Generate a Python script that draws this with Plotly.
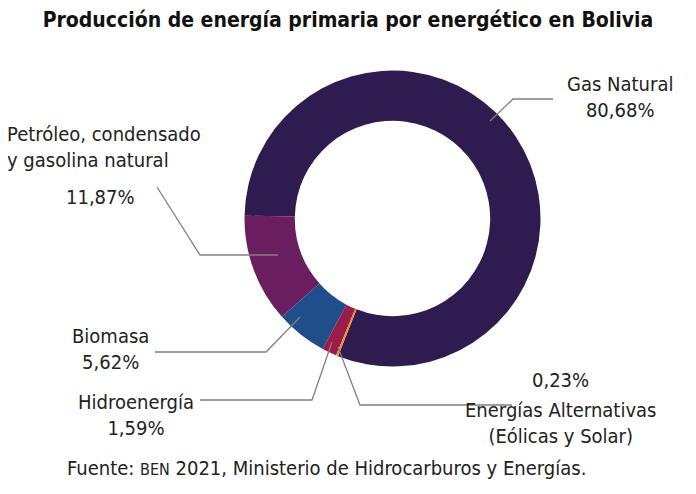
import plotly.graph_objects as go

# The page body has an 8px default margin, so the figure is drawn 8px smaller
# on each side and coordinates below are given in the 696x494 window frame.
OFF = 8
W, H = 696 - 2 * OFF, 494 - 2 * OFF

categories = ["Gas Natural", "Petróleo, condensado y gasolina natural", "Biomasa",
              "Hidroenergía", "Energías Alternativas (Eólicas y Solar)"]
values = [80.68, 11.87, 5.62, 1.59, 0.23]
value_labels = ["80,68%", "11,87%", "5,62%", "1,59%", "0,23%"]
colors = ["#2e1b4f", "#6a1e5f", "#1f4e8a", "#9b1b4a", "#f08c2a"]

FONT = "Liberation Sans Narrow, DejaVu Sans Condensed, Arial Narrow, sans-serif"
TXT = "#222222"

def px(x):
    return (x - OFF) / W

def py(y):
    return 1 - (y - OFF) / H

cx, cy, R = 392.5, 218.5, 148

fig = go.Figure(go.Pie(
    labels=categories,
    values=values,
    hole=0.66,
    sort=False,
    direction="counterclockwise",
    rotation=-88.9,
    marker=dict(colors=colors, line=dict(width=0)),
    textinfo="none",
    hoverinfo="label+percent",
    domain=dict(x=[px(cx - R), px(cx + R)], y=[py(cy + R), py(cy - R)]),
    showlegend=False,
))

# leader lines (pixel paths in window frame)
leaders = [
    [(490, 121), (513, 99), (553, 99)],
    [(278, 255), (200, 255), (157, 187)],
    [(300, 317), (266, 352), (155, 352)],
    [(332, 342), (312, 400), (200, 400)],
    [(338, 347), (360, 405), (512, 405)],
]
for pts in leaders:
    path = "M " + " L ".join(f"{px(x)},{py(y)}" for x, y in pts)
    fig.add_shape(type="path", path=path, xref="paper", yref="paper",
                  line=dict(color="#808080", width=1.3))

annots = [
    (620, 97, "Gas Natural<br>" + value_labels[0], "center"),
    (5, 147, "Petróleo, condensado<br>y gasolina natural", "left"),
    (100, 197, value_labels[1], "center"),
    (110, 349, "Biomasa<br>" + value_labels[2], "center"),
    (136, 415, "Hidroenergía<br>" + value_labels[3], "center"),
    (560, 380, value_labels[4], "center"),
    (560, 423, "Energías Alternativas<br>(Eólicas y Solar)", "center"),
]
for x, y, t, al in annots:
    fig.add_annotation(x=px(x), y=py(y), xref="paper", yref="paper", text=t,
                       showarrow=False, align=al,
                       xanchor="left" if al == "left" else "center", yanchor="middle",
                       font=dict(family=FONT, size=20, color=TXT))

fig.add_annotation(x=px(326), y=py(468), xref="paper", yref="paper",
                   text="Fuente: <span style='font-size:16px'>BEN</span> 2021, Ministerio de Hidrocarburos y Energías.",
                   showarrow=False, xanchor="center", yanchor="middle",
                   font=dict(family=FONT, size=20, color=TXT))

fig.update_layout(
    width=W, height=H, margin=dict(l=0, r=0, t=0, b=0),
    paper_bgcolor="white", plot_bgcolor="white",
    title=dict(text="<b>Producción de energía primaria por energético en Bolivia</b>",
               x=px(348), y=py(20), xref="container", yref="container",
               xanchor="center", yanchor="middle",
               font=dict(family=FONT, size=21, color="#111111")),
)

fig.write_html("out.html")
